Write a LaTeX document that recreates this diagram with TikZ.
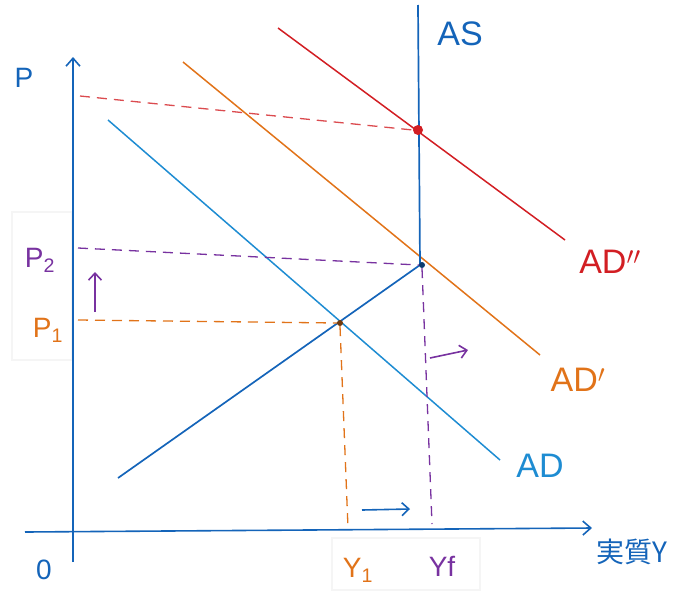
\documentclass[tikz,border=0pt]{standalone}
\usepackage{fontspec}
\setmainfont{Liberation Sans}
\newfontfamily\cjk{Noto Sans CJK JP}
\usetikzlibrary{arrows.meta}
\definecolor{axblue}{RGB}{20,100,185}
\definecolor{lnblue}{RGB}{30,140,210}
\definecolor{aorange}{RGB}{225,115,25}
\definecolor{ared}{RGB}{210,30,35}
\definecolor{apurple}{RGB}{120,50,160}
\tikzset{
  axis/.style={draw=axblue, line width=1.6pt, -{Straight Barb[length=8pt,width=14pt]}},
  curve/.style={line width=1.5pt},
  guide/.style={line width=1.3pt, dash pattern=on 10pt off 7pt},
  movearrow/.style={line width=1.6pt, -{Straight Barb[length=7pt,width=13pt]}},
  lab/.style={inner sep=0pt, font=\fontsize{28}{30}\selectfont},
  biglab/.style={inner sep=0pt, font=\fontsize{34}{36}\selectfont},
  dot/.style={circle, inner sep=0pt, minimum size=6pt},
  frame/.style={draw=black!4, line width=2pt}
}
\begin{document}
\begin{tikzpicture}[x=1pt,y=-1pt]
\useasboundingbox (0,0) rectangle (692,597);
% faint scan frames
\draw[frame] (12,212) rectangle (72,360);
\draw[frame] (332,538) rectangle (480,590);
% coordinates
\coordinate (ybot) at (73,562);
\coordinate (ytop) at (73,57);
\coordinate (xl) at (25,532);
\coordinate (xr) at (592,528);
\coordinate (astop) at (418,5);
\coordinate (askink) at (420,265);
\coordinate (asbot) at (118,478);
\coordinate (ad1) at (108,120);
\coordinate (ad2) at (500,460);
\coordinate (adp1) at (183,62);
\coordinate (adp2) at (540,355);
\coordinate (adpp1) at (278,28);
\coordinate (adpp2) at (565,240);
% axes
\draw[axis] (ybot) -- (ytop);
\draw[axis] (xl) -- (xr);
% curves
\draw[curve, lnblue] (ad1) -- (ad2);
\draw[curve, aorange] (adp1) -- (adp2);
\draw[curve, ared] (adpp1) -- (adpp2);
\draw[curve, axblue, line width=1.7pt] (astop) -- (askink) -- (asbot);
% points
\node[dot, fill=ared, minimum size=10pt] (e3) at (418,130) {};
\node[dot, fill=axblue!60!black] (e2) at (422,265) {};
\node[dot, fill=aorange!50!black] (e1) at (340,323) {};
% guides
\coordinate (g3) at (80,96);
\coordinate (g2) at (78,248);
\coordinate (g1) at (78,320);
\coordinate (y1b) at (348,528);
\coordinate (yfb) at (432,524);
\draw[guide, ared!80] (g3) -- (e3.west);
\draw[guide, apurple] (g2) -- (e2.west);
\draw[guide, aorange] (g1) -- (e1.west);
\draw[guide, aorange] (e1.south) -- (y1b);
\draw[guide, apurple] (e2.south) -- (yfb);
% shift arrows
\coordinate (pa1) at (95,312);
\coordinate (pa2) at (95,272);
\draw[movearrow, apurple] (pa1) -- (pa2);
\coordinate (ya1) at (362,510);
\coordinate (ya2) at (410,509);
\draw[movearrow, axblue] (ya1) -- (ya2);
\coordinate (ra1) at (430,358);
\coordinate (ra2) at (468,350);
\draw[movearrow, apurple] (ra1) -- (ra2);
% labels
\node[lab, axblue] (lP) at (24,78) {P};
\node[lab, axblue] (l0) at (44,570) {0};
\node[biglab, axblue] (lAS) at (460,34) {AS};
\node[biglab, lnblue] (lAD) at (540,466) {AD};
\node[biglab, aorange] (lADp) at (578,380) {AD$'$};
\node[biglab, ared] (lADpp) at (610,262) {AD$''$};
\node[lab, apurple] (lP2) at (40,260) {P\textsubscript{2}};
\node[lab, aorange] (lP1) at (48,330) {P\textsubscript{1}};
\node[lab, aorange] (lY1) at (358,570) {Y\textsubscript{1}};
\node[lab, apurple] (lYf) at (442,566) {Yf};
\node[lab, axblue, font=\cjk\fontsize{28}{30}\selectfont] (lY) at (632,552) {実質Y};
\end{tikzpicture}
\end{document}
